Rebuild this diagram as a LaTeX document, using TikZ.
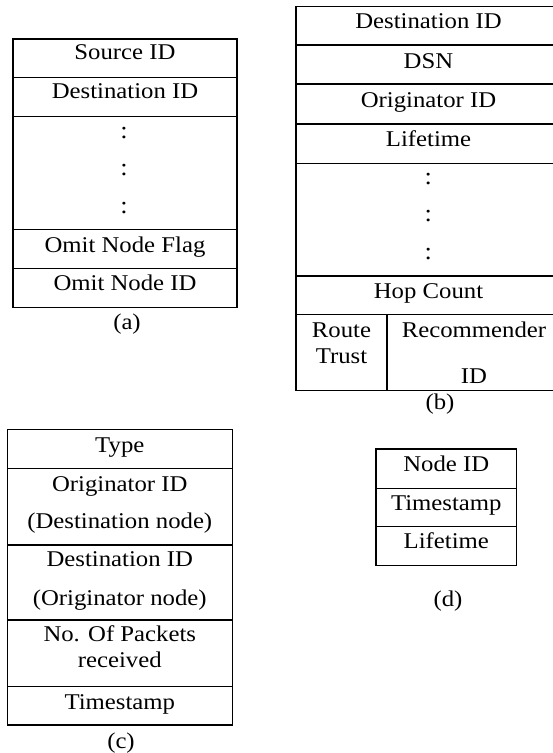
\documentclass[tikz,border=0pt]{standalone}
\usepackage{fontspec}
\setmainfont{Liberation Serif}[FakeStretch=1.1]
\begin{document}
\begin{tikzpicture}[x=1pt,y=-1pt,
  frame/.style={draw=black, line width=1.5pt},
  rule/.style={draw=black, line width=1.4pt},
  lbl/.style={anchor=base, inner sep=0pt, font=\fontsize{22.5}{24}\selectfont},
  dots/.style={anchor=base, inner sep=0pt, font=\fontsize{24}{26}\selectfont}]
\clip (0,0) rectangle (553,753);
% ---------- (a) ----------
\draw[frame] (13,39) rectangle (237,307.7);
\foreach \y in {77.7,116.3,229.3,268.3} \draw[rule] (13,\y) -- (237,\y);
\node[lbl] (a1) at (125,59.5) {Source ID};
\node[lbl] (a2) at (125,98.5) {Destination ID};
\node[dots] (ad1) at (124,138.7) {:};
\node[dots] (ad2) at (124,175.3) {:};
\node[dots] (ad3) at (124,213.7) {:};
\node[lbl] (a3) at (125,252) {Omit Node Flag};
\node[lbl] (a4) at (125,290) {Omit Node ID};
\node[lbl] (acap) at (127,329) {(a)};
% ---------- (b) ----------
\draw[frame] (296,6.7) rectangle (561,390.5);
\foreach \y in {45,84,124,163.3,276,314.3} \draw[rule] (296,\y) -- (561,\y);
\draw[rule] (387,314.3) -- (387,390.5);
\node[lbl] (b1) at (428.5,28.5) {Destination ID};
\node[lbl] (b2) at (428.5,68.5) {DSN};
\node[lbl] (b3) at (428.5,107) {Originator ID};
\node[lbl] (b4) at (428.5,146.5) {Lifetime};
\node[dots] (bd1) at (428.3,184) {:};
\node[dots] (bd2) at (428.3,221.7) {:};
\node[dots] (bd3) at (428.3,259.3) {:};
\node[lbl] (b5) at (428.5,298) {Hop Count};
\node[lbl] (b6) at (341.5,337.5) {Route};
\node[lbl] (b7) at (341.5,363) {Trust};
\node[lbl] (b8) at (474,337.5) {Recommender};
\node[lbl] (b9) at (474,383) {ID};
\node[lbl] (bcap) at (440,409) {(b)};
% ---------- (c) ----------
\draw[frame] (7.3,429.3) rectangle (232.3,725);
\foreach \y in {468.3,545,620,686.7} \draw[rule] (7.3,\y) -- (232.3,\y);
\node[lbl] (c1) at (119.8,452) {Type};
\node[lbl] (c2) at (119.8,491.5) {Originator ID};
\node[lbl] (c3) at (119.8,528.5) {(Destination node)};
\node[lbl] (c4) at (119.8,566.5) {Destination ID};
\node[lbl] (c5) at (119.8,605) {(Originator node)};
\node[lbl] (c6) at (119.8,641) {No. Of Packets};
\node[lbl] (c7) at (119.8,667) {received};
\node[lbl] (c8) at (119.8,709.5) {Timestamp};
\node[lbl] (ccap) at (121,748) {(c)};
% ---------- (d) ----------
\draw[frame] (376,449) rectangle (516.7,565.7);
\foreach \y in {488.3,526.7} \draw[rule] (376,\y) -- (516.7,\y);
\node[lbl] (d1) at (446.3,471.5) {Node ID};
\node[lbl] (d2) at (446.3,510) {Timestamp};
\node[lbl] (d3) at (446.3,548.5) {Lifetime};
\node[lbl] (dcap) at (448,606) {(d)};
\end{tikzpicture}
\end{document}
